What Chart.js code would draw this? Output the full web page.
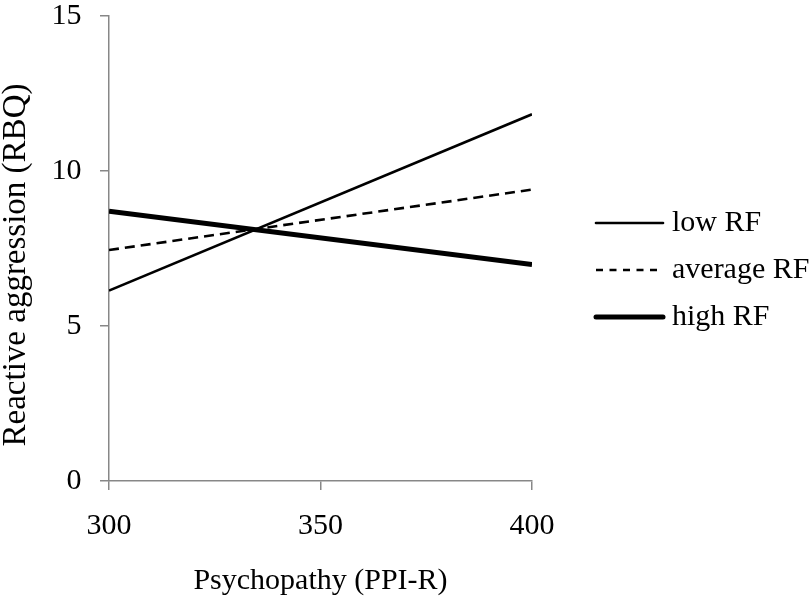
<!DOCTYPE html>
<html>
<head>
<meta charset="utf-8">
<script src="https://cdn.jsdelivr.net/npm/chart.js@4/dist/chart.umd.min.js"></script>
<style>
  html, body { margin: 0; padding: 0; background: #fff; overflow: hidden; }
  #wrap { position: relative; width: 811px; height: 596px; }
</style>
</head>
<body>
<div id="wrap"><canvas id="chart"></canvas></div>
<script>
// DATA
const xValues = [300, 400];
const lowRF = [6.14, 11.83];
const averageRF = [7.45, 9.40];
const highRF = [8.70, 6.98];
const seriesNames = ["low RF", "average RF", "high RF"];
const xTicks = [300, 350, 400];
const yTicks = [0, 5, 10, 15];

const axisGray = "#878787";
const serif = "'Liberation Serif', 'Times New Roman', serif";

function points(vals) {
    return xValues.map((x, i) => ({ x: x, y: vals[i] }));
}

// LEGEND (drawn on the right, like the original)
const sideLegend = {
    id: "sideLegend",
    afterDraw(chart) {
        const ctx = chart.ctx;
        const area = chart.chartArea;
        const x0 = area.right + 64;
        const lineLen = 67;
        const rowGap = 47;
        const firstY = 223;
        ctx.save();
        chart.data.datasets.forEach((ds, i) => {
            const y = firstY + i * rowGap;
            ctx.beginPath();
            ctx.strokeStyle = ds.borderColor;
            ctx.lineWidth = ds.borderWidth;
            ctx.lineCap = ds.borderDash ? "butt" : "round";
            ctx.setLineDash(ds.borderDash ? [7, 6.5] : []);
            ctx.moveTo(x0, y);
            ctx.lineTo(x0 + lineLen, y);
            ctx.stroke();
            ctx.setLineDash([]);
            ctx.fillStyle = "#000";
            ctx.font = "30px " + serif;
            ctx.textBaseline = "middle";
            ctx.textAlign = "left";
            ctx.fillText(ds.label, x0 + lineLen + 9, y);
        });
        ctx.restore();
    }
};

new Chart(document.getElementById("chart"), {
    type: "line",
    data: {
        datasets: [
            { label: seriesNames[0], data: points(lowRF), borderColor: "#000", borderWidth: 2.6 },
            { label: seriesNames[1], data: points(averageRF), borderColor: "#000", borderWidth: 2.6, borderDash: [10, 6] },
            { label: seriesNames[2], data: points(highRF), borderColor: "#000", borderWidth: 5 }
        ]
    },
    options: {
        responsive: true,
        maintainAspectRatio: false,
        animation: false,
        layout: { padding: { top: 0, right: 279, left: 0, bottom: 0 } },
        elements: { point: { radius: 0 }, line: { tension: 0, fill: false } },
        plugins: { legend: { display: false }, tooltip: { enabled: false } },
        scales: {
            x: {
                type: "linear",
                min: xTicks[0],
                max: xTicks[xTicks.length - 1],
                afterBuildTicks: s => { s.ticks = xTicks.map(v => ({ value: v })); },
                grid: { drawOnChartArea: false, color: axisGray, tickLength: 9, lineWidth: 1.5 },
                border: { color: axisGray, width: 1.5 },
                ticks: { color: "#000", padding: 21, font: { family: serif, size: 30, lineHeight: 1 } },
                title: {
                    display: true,
                    text: "Psychopathy (PPI-R)",
                    color: "#000",
                    padding: { top: 4, bottom: 0 },
                    font: { family: serif, size: 30, lineHeight: 1 }
                }
            },
            y: {
                min: yTicks[0],
                max: yTicks[yTicks.length - 1],
                afterBuildTicks: s => { s.ticks = yTicks.map(v => ({ value: v })); },
                afterFit: s => { s.paddingTop = 16; },
                grid: { drawOnChartArea: false, color: axisGray, tickLength: 9, lineWidth: 1.5 },
                border: { color: axisGray, width: 1.5 },
                ticks: { color: "#000", padding: 18.5, font: { family: serif, size: 30, lineHeight: 1 } },
                title: {
                    display: true,
                    text: "Reactive aggression (RBQ)    ",
                    color: "#000",
                    padding: 0,
                    font: { family: serif, size: 33, lineHeight: 1 }
                }
            }
        }
    },
    plugins: [sideLegend]
});
</script>
</body>
</html>
